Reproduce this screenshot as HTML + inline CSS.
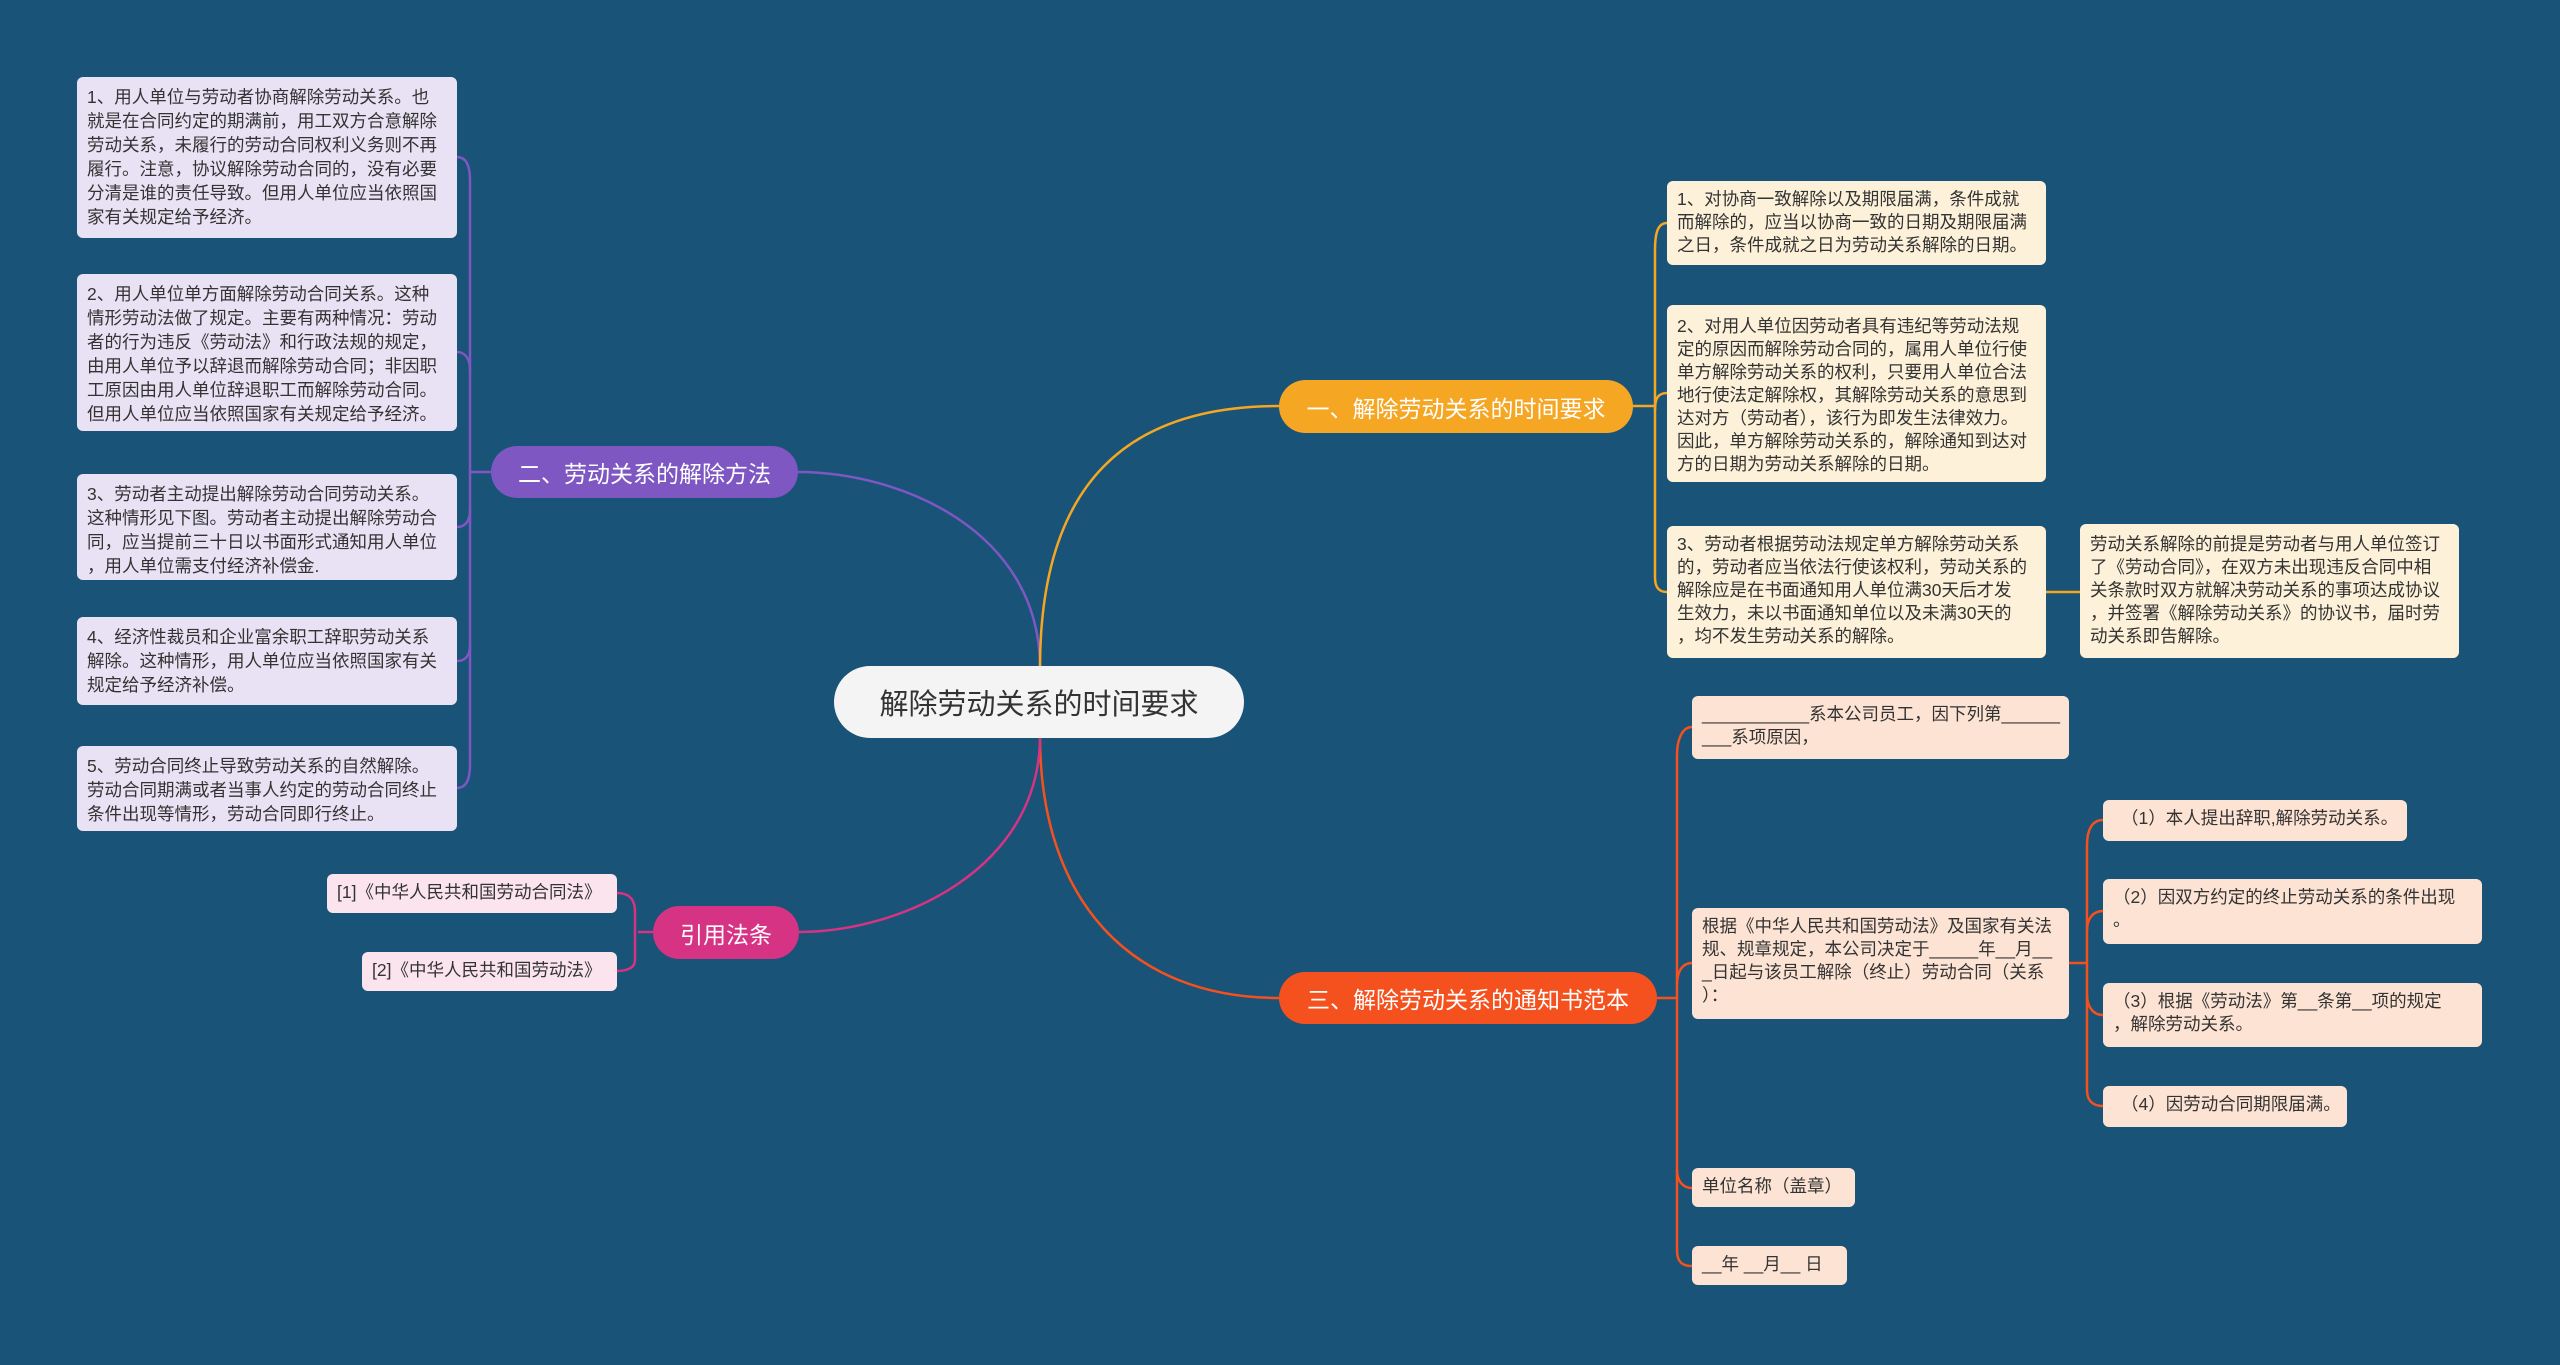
<!DOCTYPE html>
<html><head><meta charset="utf-8"><style>
body{margin:0;width:2560px;height:1365px;background:#195377;overflow:hidden;position:relative;font-family:"Liberation Sans","Noto Sans CJK SC",sans-serif;}
.b{position:absolute;box-sizing:border-box;font-size:17.5px;line-height:23px;color:#333;padding:7px 10px;border-radius:6px;white-space:nowrap;overflow:hidden;}
.p{background:#e9e2f4;line-height:24px;padding-top:8px;}
.y{background:#fdf1d9;}
.o{background:#fde3d3;}
.k{background:#fbe4ee;}
.n{position:absolute;box-sizing:border-box;border-radius:27px;color:#fff;font-size:23px;display:flex;align-items:center;justify-content:center;white-space:nowrap;}
svg{position:absolute;left:0;top:0;}
</style></head><body>
<svg width="2560" height="1365" fill="none" stroke-width="2.5">
<path d="M1040 668 C1040 530 900 472 798 472" stroke="#7e57c2"/>
<path d="M1040 668 C1040 480 1130 406 1279 406" stroke="#f5a623"/>
<path d="M1040 736 C1040 900 1130 998 1279 998" stroke="#f4511e"/>
<path d="M1040 736 C1040 870 900 932 799 932" stroke="#d63384"/>
<g stroke="#7e57c2"><path d="M491 472 L470 472"/>
<path d="M457 157 C466 157 470 165 470 180 L470 765 C470 780 466 788 457 788"/>
<path d="M457 352 C466 352 470 360 470 370"/><path d="M457 527 C466 527 470 520 470 510"/><path d="M457 661 C466 661 470 655 470 645"/></g>
<g stroke="#f5a623"><path d="M1667 223 C1657 223 1655 235 1655 250 L1655 577 C1655 585 1657 592 1667 592"/>
<path d="M1667 393 C1657 393 1655 400 1655 410"/><path d="M1655 406 L1633 406"/><path d="M2046 592 L2080 592"/></g>
<g stroke="#f4511e"><path d="M1692 727 C1682 727 1677 740 1677 755 L1677 1250 C1677 1262 1682 1266 1692 1266"/>
<path d="M1692 963 C1682 963 1677 972 1677 985"/><path d="M1692 1188 C1682 1188 1677 1180 1677 1170"/><path d="M1677 998 L1657 998"/>
<path d="M2069 963 L2087 963"/>
<path d="M2103 820 C2092 820 2087 830 2087 845 L2087 1090 C2087 1100 2092 1106 2103 1106"/>
<path d="M2103 911 C2092 911 2087 920 2087 930"/><path d="M2103 1015 C2092 1015 2087 1005 2087 995"/></g>
<g stroke="#d63384"><path d="M653 932 L638 932"/><path d="M617 893 C630 893 635 900 635 912 L635 960 C635 966 630 971 617 971"/></g>
</svg>

<div class="n" style="left:834px;top:666px;width:410px;height:72px;background:#f4f4f4;color:#333;font-size:29px;border-radius:36px;">解除劳动关系的时间要求</div>
<div class="n" style="left:491px;top:446px;width:307px;height:52px;background:#7e57c2;">二、劳动关系的解除方法</div>
<div class="n" style="left:1279px;top:380px;width:354px;height:53px;background:#f5a623;">一、解除劳动关系的时间要求</div>
<div class="n" style="left:1279px;top:972px;width:378px;height:52px;background:#f4511e;">三、解除劳动关系的通知书范本</div>
<div class="n" style="left:653px;top:906px;width:146px;height:53px;background:#d63384;">引用法条</div>

<div class="b p" style="left:77px;top:77px;width:380px;height:161px;">1、用人单位与劳动者协商解除劳动关系。也<br>就是在合同约定的期满前，用工双方合意解除<br>劳动关系，未履行的劳动合同权利义务则不再<br>履行。注意，协议解除劳动合同的，没有必要<br>分清是谁的责任导致。但用人单位应当依照国<br>家有关规定给予经济。</div>
<div class="b p" style="left:77px;top:274px;width:380px;height:157px;">2、用人单位单方面解除劳动合同关系。这种<br>情形劳动法做了规定。主要有两种情况：劳动<br>者的行为违反《劳动法》和行政法规的规定，<br>由用人单位予以辞退而解除劳动合同；非因职<br>工原因由用人单位辞退职工而解除劳动合同。<br>但用人单位应当依照国家有关规定给予经济。</div>
<div class="b p" style="left:77px;top:474px;width:380px;height:106px;">3、劳动者主动提出解除劳动合同劳动关系。<br>这种情形见下图。劳动者主动提出解除劳动合<br>同，应当提前三十日以书面形式通知用人单位<br>，用人单位需支付经济补偿金.</div>
<div class="b p" style="left:77px;top:617px;width:380px;height:88px;">4、经济性裁员和企业富余职工辞职劳动关系<br>解除。这种情形，用人单位应当依照国家有关<br>规定给予经济补偿。</div>
<div class="b p" style="left:77px;top:746px;width:380px;height:85px;">5、劳动合同终止导致劳动关系的自然解除。<br>劳动合同期满或者当事人约定的劳动合同终止<br>条件出现等情形，劳动合同即行终止。</div>

<div class="b y" style="left:1667px;top:181px;width:379px;height:84px;">1、对协商一致解除以及期限届满，条件成就<br>而解除的，应当以协商一致的日期及期限届满<br>之日，条件成就之日为劳动关系解除的日期。</div>
<div class="b y" style="left:1667px;top:305px;width:379px;height:177px;padding-top:10px;">2、对用人单位因劳动者具有违纪等劳动法规<br>定的原因而解除劳动合同的，属用人单位行使<br>单方解除劳动关系的权利，只要用人单位合法<br>地行使法定解除权，其解除劳动关系的意思到<br>达对方（劳动者），该行为即发生法律效力。<br>因此，单方解除劳动关系的，解除通知到达对<br>方的日期为劳动关系解除的日期。</div>
<div class="b y" style="left:1667px;top:526px;width:379px;height:132px;">3、劳动者根据劳动法规定单方解除劳动关系<br>的，劳动者应当依法行使该权利，劳动关系的<br>解除应是在书面通知用人单位满30天后才发<br>生效力，未以书面通知单位以及未满30天的<br>，均不发生劳动关系的解除。</div>
<div class="b y" style="left:2080px;top:524px;width:379px;height:134px;padding-top:9px;">劳动关系解除的前提是劳动者与用人单位签订<br>了《劳动合同》，在双方未出现违反合同中相<br>关条款时双方就解决劳动关系的事项达成协议<br>，并签署《解除劳动关系》的协议书，届时劳<br>动关系即告解除。</div>

<div class="b o" style="left:1692px;top:696px;width:377px;height:63px;">___________系本公司员工，因下列第______<br>___系项原因，</div>
<div class="b o" style="left:1692px;top:908px;width:377px;height:111px;">根据《中华人民共和国劳动法》及国家有关法<br>规、规章规定，本公司决定于_____年__月__<br>_日起与该员工解除（终止）劳动合同（关系<br>）：</div>
<div class="b o" style="left:1692px;top:1168px;width:163px;height:39px;">单位名称（盖章）</div>
<div class="b o" style="left:1692px;top:1246px;width:155px;height:39px;">__年 __月__ 日</div>
<div class="b o" style="left:2103px;top:800px;width:304px;height:41px;padding-left:18px;">（1）本人提出辞职,解除劳动关系。</div>
<div class="b o" style="left:2103px;top:879px;width:379px;height:65px;">（2）因双方约定的终止劳动关系的条件出现<br>。</div>
<div class="b o" style="left:2103px;top:983px;width:379px;height:64px;">（3）根据《劳动法》第__条第__项的规定<br>，解除劳动关系。</div>
<div class="b o" style="left:2103px;top:1086px;width:244px;height:41px;padding-left:18px;">（4）因劳动合同期限届满。</div>

<div class="b k" style="left:327px;top:874px;width:290px;height:39px;">[1]《中华人民共和国劳动合同法》</div>
<div class="b k" style="left:362px;top:952px;width:255px;height:39px;">[2]《中华人民共和国劳动法》</div>
</body></html>
